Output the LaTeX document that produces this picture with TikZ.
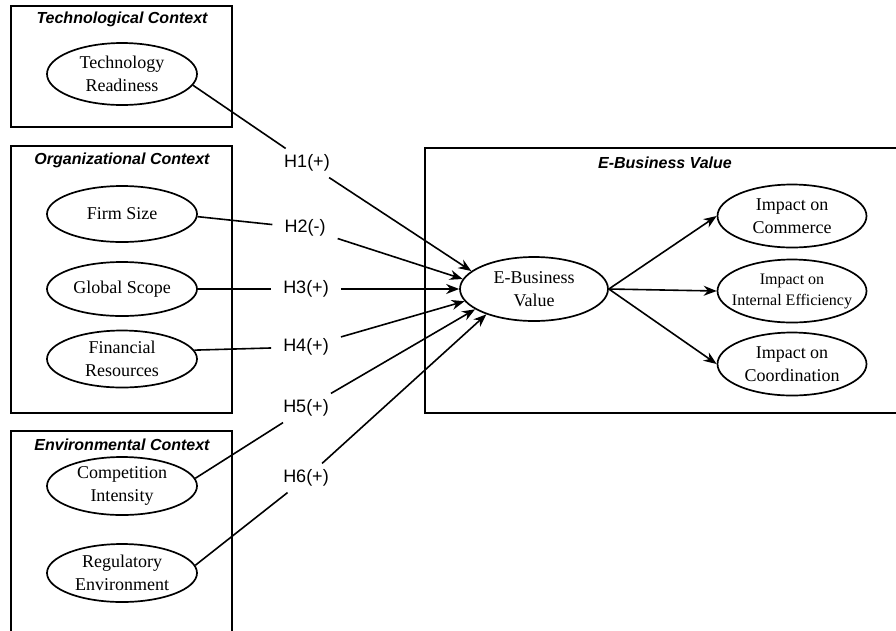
\documentclass[tikz,border=0pt]{standalone}
\usepackage{fontspec}
\setmainfont{Liberation Serif}
\setsansfont{Liberation Sans}
\usetikzlibrary{arrows.meta,shapes.geometric}
\begin{document}
\begin{tikzpicture}[x=1pt,y=-1pt,
  ctx/.style={draw,line width=1.7pt},
  title/.style={font=\sffamily\bfseries\itshape\fontsize{16}{18}\selectfont,inner sep=0pt},
  var/.style={ellipse,draw,line width=1.7pt,inner sep=0pt,align=center,
    font=\fontsize{18}{23.5}\selectfont,minimum width=150pt,minimum height=58pt},
  imp/.style={var,minimum width=149pt,minimum height=63pt},
  hyp/.style={font=\sffamily\fontsize{18}{20}\selectfont,inner xsep=12pt,inner ysep=6pt},
  link/.style={line width=1.6pt},
  arr/.style={line width=1.6pt,-{Stealth[length=13pt,width=10pt]}},
]
\useasboundingbox (0,0) rectangle (896,630);

% context boxes
\draw[ctx] (11,6) rectangle (232,127);
\draw[ctx] (11,146) rectangle (232,413);
\draw[ctx] (11,431) rectangle (232,650);
\draw[ctx] (425,148) rectangle (910,413);

% titles
\node[title] (tt) at (122,19) {Technological Context};
\node[title] (ot) at (122,160) {Organizational Context};
\node[title] (et) at (122,445) {Environmental Context};
\node[title] (bt) at (665,163) {E-Business Value};

% antecedents
\node[var,minimum height=62pt] (tr) at (122,74) {Technology\\Readiness};
\node[var,minimum height=56pt] (fs) at (122,214) {Firm Size};
\node[var,minimum height=54pt] (gs) at (122,289) {Global Scope};
\node[var,minimum height=57pt] (fr) at (122,359) {Financial\\Resources};
\node[var] (ci) at (122,486) {Competition\\Intensity};
\node[var] (re) at (122,573) {Regulatory\\Environment};

% central construct and outcomes
\node[var,minimum width=148pt,minimum height=64pt] (ebv) at (534,289) {E-Business\\Value};
\node[imp] (ic) at (792,216) {Impact on\\Commerce};
\node[imp,inner xsep=-10pt,inner ysep=-6pt,font=\fontsize{16}{21}\selectfont] (ie) at (792,291) {Impact on\\Internal Efficiency};
\node[imp] (io) at (792,364) {Impact on\\Coordination};

% hypothesis labels
\node[hyp] (h1) at (307,163) {H1(+)};
\node[hyp] (h2) at (305,228) {H2(-)};
\node[hyp] (h3) at (306,289) {H3(+)};
\node[hyp] (h4) at (306,347) {H4(+)};
\node[hyp] (h5) at (306,408) {H5(+)};
\node[hyp] (h6) at (306,478) {H6(+)};

% hypothesised paths
\draw[link] (tr.-9) -- (h1);
\draw[arr] (h1) -- (ebv.164);
\draw[link] (fs.-2) -- (h2);
\draw[arr] (h2) -- (ebv.172);
\draw[link] (gs.east) -- (h3);
\draw[arr] (h3) -- (ebv.west);
\draw[link] (fr.7) -- (h4);
\draw[arr] (h4) -- (ebv.190);
\draw[link] (ci.6) -- (h5);
\draw[arr] (h5) -- (ebv.199);
\draw[link] (re.6) -- (h6);
\draw[arr] (h6) -- (ebv.208);

% outcome paths
\draw[arr] (ebv.east) -- (ic.west);
\draw[arr] (ebv.east) -- (ie.west);
\draw[arr] (ebv.east) -- (io.west);
\end{tikzpicture}
\end{document}
